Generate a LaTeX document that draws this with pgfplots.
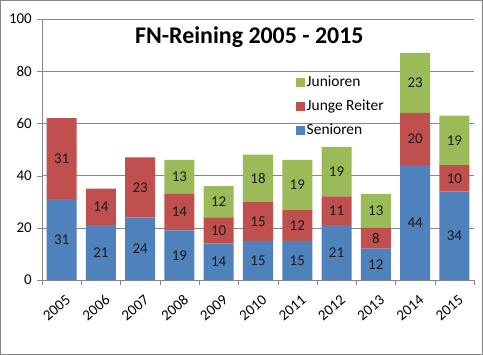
\documentclass[border=0pt]{standalone}
\usepackage{pgfplots}
\usepackage{pgfplotstable}
\pgfplotsset{compat=1.18}
\usepackage{fontspec}
\setmainfont{Carlito}
\definecolor{sen}{HTML}{4F81BD}
\definecolor{jr}{HTML}{C0504D}
\definecolor{ju}{HTML}{9BBB59}
\definecolor{gridc}{HTML}{878787}
\definecolor{lblc}{HTML}{1A1A1A}
\pgfplotstableread{
x year sen jr ju
0 2005 31 31 0
1 2006 21 14 0
2 2007 24 23 0
3 2008 19 14 13
4 2009 14 10 12
5 2010 15 15 18
6 2011 15 12 19
7 2012 21 11 19
8 2013 12 8 13
9 2014 44 20 23
10 2015 34 10 19
}\data
\newcommand{\lblfont}{\fontsize{15}{17}\selectfont}
\pgfplotsset{
  geom/.style={
    at={(42bp,75bp)}, anchor=south west,
    scale only axis, width=432bp, height=261bp,
    xmin=-0.5, xmax=10.5, ymin=0, ymax=100,
  },
  lbl/.style={
    only marks, mark=none,
    nodes near coords, point meta=explicit symbolic,
    every node near coord/.style={anchor=center, font=\lblfont, text=lblc, inner sep=0pt},
  }
}
\begin{document}
\begin{tikzpicture}
\begin{axis}[
  geom,
  ybar stacked, bar width=30bp,
  xtick={0,...,10},
  xticklabels={2005,2006,2007,2008,2009,2010,2011,2012,2013,2014,2015},
  minor xtick={-0.5,0.5,...,10.5},
  major x tick style={draw=none},
  minor tick length=5bp,
  ytick={0,20,...,100},
  major tick length=5bp,
  tick align=outside,
  axis x line*=bottom, axis y line*=left,
  axis line style={gridc, -},
  tick style={gridc},
  ymajorgrids, grid style={gridc, line width=0.6pt},
  tick label style={font=\lblfont},
  /pgf/number format/assume math mode=true,
  xticklabel style={rotate=40, anchor=north east, inner sep=1pt, yshift=-8bp, xshift=-2bp},
  yticklabel style={inner sep=2pt, xshift=-3bp},
  title={FN-Reining 2005 - 2015},
  title style={at={(0.48,0.908)}, anchor=center, yshift=0pt, font=\fontsize{24}{28}\selectfont\bfseries},
  legend style={draw=none, fill=none, at={(0.58,0.797)}, anchor=north west, font=\fontsize{15.5}{17}\selectfont, row sep=8bp, legend cell align=left},
  legend image code/.code={\fill (0bp,-4.5bp) rectangle (9bp,4.5bp);},
  reverse legend,
]
\addplot[fill=sen, draw=none] table[x=x, y=sen] {\data};
\addlegendentry{Senioren}
\addplot[fill=jr, draw=none] table[x=x, y=jr] {\data};
\addlegendentry{Junge Reiter}
\addplot[fill=ju, draw=none] table[x=x, y=ju] {\data};
\addlegendentry{Junioren}
\end{axis}
\begin{axis}[geom, hide axis]
\addplot[lbl] table[x=x, y expr=\thisrow{sen}/2, meta=sen] {\data};
\addplot[lbl] table[x=x, y expr=\thisrow{sen}+\thisrow{jr}/2, meta=jr] {\data};
\addplot[lbl, skip coords between index={0}{3}] table[x=x, y expr=\thisrow{sen}+\thisrow{jr}+\thisrow{ju}/2, meta=ju] {\data};
\end{axis}
\draw[gridc, line width=1pt] (0.5bp,0.5bp) rectangle (482.5bp,354.5bp);
\end{tikzpicture}
\end{document}
